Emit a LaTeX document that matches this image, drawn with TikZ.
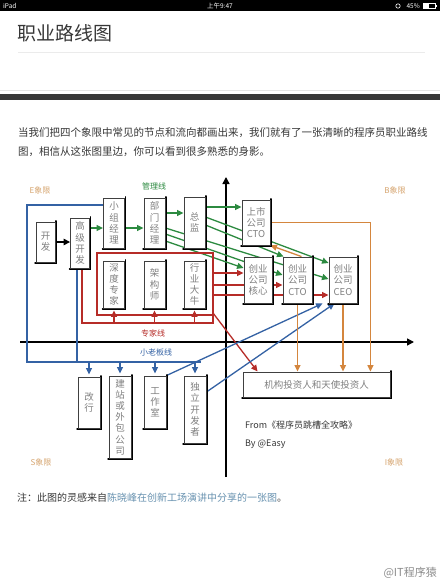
\documentclass[tikz,border=0pt]{standalone}
\usepackage{fontspec}
\setmainfont{Noto Sans CJK SC}
\usetikzlibrary{arrows.meta}
\definecolor{gcol}{RGB}{44,138,64}
\definecolor{rcol}{RGB}{182,44,40}
\definecolor{bcol}{RGB}{52,98,164}
\definecolor{ocol}{RGB}{212,134,62}
\definecolor{qcol}{RGB}{214,164,110}
\definecolor{txt}{RGB}{55,55,55}
\definecolor{linkcol}{RGB}{104,146,176}
\pgfdeclarelayer{paper}
\pgfdeclarelayer{bg}
\pgfsetlayers{paper,bg,main}
\newcommand\bxfont{\fontsize{9.5}{11.2}\selectfont}
\newcommand\lblfont{\fontsize{8}{9}\selectfont}
\begin{document}
\begin{tikzpicture}[x=1pt,y=-1pt,
  bx/.style={draw=black!75, line width=0.9pt, fill=white, inner sep=0pt, align=center, font=\bxfont, text=black!50,
    append after command={\pgfextra{\draw[black, line width=1.8pt, line cap=round]
      ([xshift=0.6pt,yshift=0.6pt]\tikzlastnode.north east) -- ([xshift=0.6pt,yshift=-0.6pt]\tikzlastnode.south east)
      -- ([xshift=-0.4pt,yshift=-0.6pt]\tikzlastnode.south west);}}},
  tipa/.style={-{Triangle[length=6.5pt,width=6pt]}},
  gl/.style={draw=gcol, line width=1.3pt},
  rl/.style={draw=rcol, line width=1.3pt},
  bl/.style={draw=bcol, line width=1.3pt},
  ol/.style={draw=ocol, line width=1.3pt},
  axisln/.style={draw=black, line width=1.5pt, -{Triangle[length=7pt,width=7pt]}},
  lbl/.style={font=\lblfont, inner sep=0pt}
]
\useasboundingbox (0,0) rectangle (440,586);
\begin{pgfonlayer}{paper}
\fill[white] (0,0) rectangle (440,586);
\end{pgfonlayer}

% status bar
\fill[black] (0,0) rectangle (440,11.5);
\node[anchor=west, text=white, font=\fontsize{6.5}{7}\selectfont, inner sep=0pt] (ipad) at (3,6) {iPad};
\node[text=white, font=\fontsize{6.5}{7}\selectfont, inner sep=0pt] (clock) at (220,6) {上午9:47};
\node[anchor=east, text=white, font=\fontsize{6.5}{7}\selectfont, inner sep=0pt] (batt) at (420,6) {45\%};
\draw[white, line width=0.6pt] (398,6) circle (2.2);
\draw[white, line width=0.6pt] (423.5,3.5) rectangle (435,8.5);
\fill[white] (423.5,3.5) rectangle (428.5,8.5);
\fill[white] (435,5) rectangle (436.5,7);

% title
\node[anchor=west, text=txt, font=\fontsize{19}{20}\selectfont, inner sep=0pt] (title) at (17,33) {职业路线图};
\draw[black!8, line width=0.8pt] (18,52) -- (425,52);
\draw[black!10, line width=0.8pt] (0,90.5) -- (440,90.5);
\fill[black!78] (0,94) rectangle (440,99.5);

% paragraph
\node[anchor=west, text=txt, font=\fontsize{10.5}{12}\selectfont, inner sep=0pt] (p1) at (18,133) {当我们把四个象限中常见的节点和流向都画出来，我们就有了一张清晰的程序员职业路线};
\node[anchor=west, text=txt, font=\fontsize{10.5}{12}\selectfont, inner sep=0pt] (p2) at (18,152) {图，相信从这张图里边，你可以看到很多熟悉的身影。};

% boxes
\node[bx, minimum width=19, minimum height=40] (kf) at (45.5,242) {开\\发};
\node[bx, minimum width=19, minimum height=50] (gj) at (80,243) {高\\级\\开\\发};
\node[bx, minimum width=21, minimum height=50] (xz) at (114,223) {小\\组\\经\\理};
\node[bx, minimum width=21, minimum height=50] (bm) at (154.5,223) {部\\门\\经\\理};
\node[bx, minimum width=21, minimum height=51] (zj) at (194.5,222.5) {总\\监};
\node[bx, minimum width=21, minimum height=47] (sd) at (114,284.5) {深\\度\\专\\家};
\node[bx, minimum width=21, minimum height=47] (jg) at (154.5,284.5) {架\\构\\师};
\node[bx, minimum width=21, minimum height=47] (hy) at (194.5,284.5) {行\\业\\大\\牛};
\node[bx, minimum width=28, minimum height=45] (ss) at (256,222.5) {上市\\公司\\CTO};
\node[bx, minimum width=28, minimum height=46] (cx) at (258,280) {创业\\公司\\核心};
\node[bx, minimum width=29, minimum height=46] (cc) at (297.5,280) {创业\\公司\\CTO};
\node[bx, minimum width=28, minimum height=46] (ce) at (343,280) {创业\\公司\\CEO};
\node[bx, minimum width=147, minimum height=25] (tz) at (316.5,384.5) {机构投资人和天使投资人};
\node[bx, minimum width=22, minimum height=51] (gh) at (89,402.5) {改\\行};
\node[bx, minimum width=22, minimum height=82] (jz) at (120,417) {建\\站\\或\\外\\包\\公\\司};
\node[bx, minimum width=22, minimum height=52] (gz) at (155,402) {工\\作\\室};
\node[bx, minimum width=22, minimum height=67] (dl) at (195,409.5) {独\\立\\开\\发\\者};

% labels
\node[lbl, text=qcol] (eq) at (40,190) {E象限};
\node[lbl, text=qcol] (bq) at (395,190) {B象限};
\node[lbl, text=qcol] (sq) at (41,462) {S象限};
\node[lbl, text=qcol] (iq) at (394,462) {I象限};
\node[lbl, text=gcol] (glbl) at (154,186) {管理线};
\node[lbl, text=rcol] (rlbl) at (153,333) {专家线};
\node[lbl, text=bcol] (blbl) at (156,352) {小老板线};
\node[anchor=west, inner sep=0pt, text=txt, font=\fontsize{9}{10}\selectfont] (from) at (245,425) {From《程序员跳槽全攻略》};
\node[anchor=west, inner sep=0pt, text=txt, font=\fontsize{9}{10}\selectfont] (by) at (245,444) {By @Easy};

% note and watermark
\node[anchor=west, inner sep=0pt, font=\fontsize{10}{11}\selectfont] (note) at (17,498) {\textcolor{txt}{注：此图的灵感来自}\textcolor{linkcol}{陈晓峰在创新工场演讲中分享的一张图}\textcolor{txt}{。}};
\node[anchor=east, inner sep=0pt, text=black!45, font=\fontsize{11}{12}\selectfont] (wm) at (437,573) {@IT程序猿};

% axes coordinates
\coordinate (vb) at (226,477);
\coordinate (vt) at (226,177);
\coordinate (hl) at (20,342);
\coordinate (hr) at (414,342);

\begin{pgfonlayer}{bg}
% axes
\draw[axisln] (vb) -- (vt);
\draw[axisln] (hl) -- (hr);

% black
\draw[draw=black, line width=1.4pt, -{Triangle[length=6.5pt,width=6.5pt]}] (kf.east) -- (kf.east -| gj.west);

% green management line
\draw[gl, tipa] (gj.east |- 0,228) -- (xz.west |- 0,228);
\draw[gl, tipa] (xz.east |- 0,228) -- (bm.west |- 0,228);
\draw[gl, tipa] (bm.east |- 0,213) -- (zj.west |- 0,213);
\draw[gl, tipa] (zj.east |- 0,207) -- (ss.west |- 0,207);
\draw[gl, tipa] (zj.east |- 0,217) -- (ce.west |- 0,263);
\draw[gl, tipa] (zj.east |- 0,225) -- ([xshift=1pt]cc.north west);
\draw[gl, tipa] (bm.east |- 0,228) -- (ce.west |- 0,279);
\draw[gl, tipa] (bm.east |- 0,234) -- (cc.west |- 0,275);
\draw[gl, tipa] (bm.east |- 0,241) -- (cx.west |- 0,268);

% red expert line
\draw[rl] ([xshift=2pt]gj.south) |- (213,323) -- (213,253) -- (97,253) -- (97,315) -- (213,315);
\draw[rl, tipa] (sd.south |- 0,323) -- ([yshift=-2pt]sd.south);
\draw[rl, tipa] (jg.south |- 0,323) -- ([yshift=-2pt]jg.south);
\draw[rl, tipa] (hy.south |- 0,323) -- ([yshift=-2pt]hy.south);
\draw[rl, tipa] (213,273) -- (cx.west |- 0,273);
\draw[rl, tipa] (213,285) -- (cc.west |- 0,285);
\draw[rl, tipa] (213,295) -- (ce.west |- 0,295);
\draw[rl, tipa] (213,313) -- ([xshift=15pt]tz.north west);

% blue small-boss line
\draw[bl] (xz.west |- 0,205) -- (27,205) -- (27,362) -- (201,362);
\draw[bl] ([xshift=-3pt]gj.south) -- (77,362);
\draw[bl, tipa] (gh.north |- 0,362) -- ([yshift=2pt]gh.north);
\draw[bl, tipa] (jz.north |- 0,362) -- ([yshift=2pt]jz.north);
\draw[bl, tipa] (gz.north |- 0,362) -- ([yshift=2pt]gz.north);
\draw[bl, tipa] (dl.north |- 0,362) -- ([yshift=2pt]dl.north);
\draw[bl, tipa] (gz.north east) -- ([xshift=-6pt]ce.south west);
\draw[bl, tipa] (dl.east |- 0,392) -- ([xshift=6pt]ce.south west);

% orange investor lines
\draw[ol, tipa] (cc.south) -- (cc.south |- tz.north);
\draw[ol, tipa] (ce.south) -- (ce.south |- tz.north);
\draw[ol, tipa] (ss.east) -| ([xshift=-20pt]tz.north east);
\draw[ol, tipa] ([xshift=4pt]cc.north) -- (ss.south east);
\end{pgfonlayer}
\end{tikzpicture}
\end{document}
